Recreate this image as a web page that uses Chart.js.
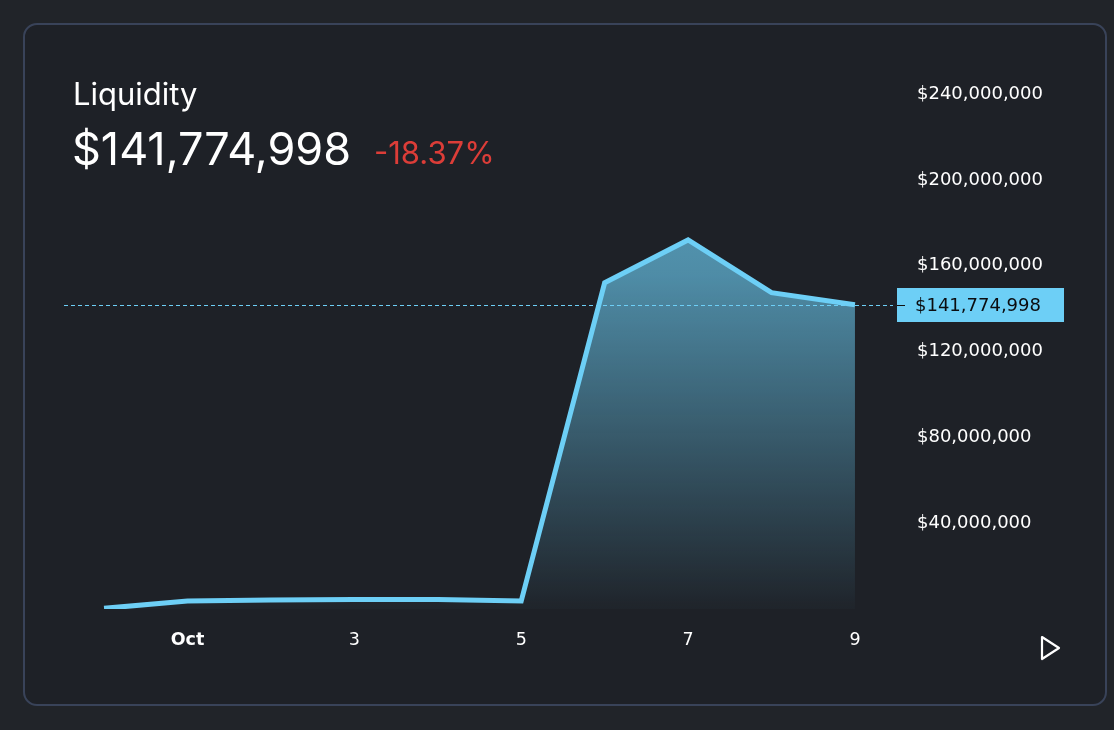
<!DOCTYPE html>
<html lang="en">
<head>
<meta charset="UTF-8">
<title>Liquidity</title>
<script src="https://cdn.jsdelivr.net/npm/chart.js"></script>
<style>
    html, body { margin: 0; padding: 0; background: #212429; }
    body { width: 1114px; height: 730px; position: relative; overflow: hidden; font-family: Inter, "Noto Sans", sans-serif; }
    .card { position: absolute; left: 23px; top: 23px; width: 1080px; height: 679px; border: 2px solid #394359; border-radius: 14px; background: #1e2127; }
    .chart-box { position: absolute; left: 0; top: 0; width: 1114px; height: 730px; }
    .txt { position: absolute; line-height: 1; white-space: nowrap; }
    .title { left: 73px; top: 78px; color: #fff; font-size: 31px; }
    .value { left: 72px; top: 126px; color: #fff; font-size: 45px; }
    .change { left: 374px; top: 137px; color: #dc3d38; font-size: 31px; }
    .play { position: absolute; left: 1038px; top: 634px; }
</style>
</head>
<body>
<div class="card"></div>
<div class="chart-box"><canvas id="chart" width="1114" height="730"></canvas></div>
<div class="txt title">Liquidity</div>
<div class="txt value">$141,774,998</div>
<div class="txt change">-18.37%</div>
<svg class="play" width="26" height="28" viewBox="0 0 26 28">
    <path d="M4 3 L21 14 L4 25 Z" fill="none" stroke="#fff" stroke-width="2.2" stroke-linejoin="round"/>
</svg>

<script>
    // data: Sep 30 .. Oct 9
    const days = ['Sep 30', 'Oct 1', 'Oct 2', 'Oct 3', 'Oct 4', 'Oct 5', 'Oct 6', 'Oct 7', 'Oct 8', 'Oct 9'];
    const liquidity = [300000, 3700000, 4200000, 4400000, 4400000, 3700000, 152000000, 172000000, 147400000, 141774998];
    const xTickIndex = [1, 3, 5, 7, 9];
    const xTickLabels = ['Oct', '3', '5', '7', '9'];
    const yTicks = [40000000, 80000000, 120000000, 160000000, 200000000, 240000000];

    const lineColor = '#6dcff6';

    function money(v) {
        return '$' + Math.round(v).toLocaleString('en-US');
    }

    // dashed line + price tag for the last value
    const lastValuePlugin = {
        id: 'lastValue',
        afterDatasetsDraw(chart) {
            const ctx = chart.ctx;
            const area = chart.chartArea;
            const v = liquidity[liquidity.length - 1];
            const y = Math.round(chart.scales.y.getPixelForValue(v));
            ctx.save();
            ctx.strokeStyle = lineColor;
            ctx.lineWidth = 1;
            ctx.setLineDash([4, 3]);
            ctx.beginPath();
            ctx.moveTo(area.left, y + 0.5);
            ctx.lineTo(area.right - 2, y + 0.5);
            ctx.stroke();
            ctx.setLineDash([]);
            ctx.fillStyle = lineColor;
            ctx.fillRect(area.right + 2, y - 17, 167, 34);
            ctx.strokeStyle = '#111';
            ctx.beginPath();
            ctx.moveTo(area.right + 2, y + 0.5);
            ctx.lineTo(area.right + 10, y + 0.5);
            ctx.stroke();
            ctx.fillStyle = '#0b0d10';
            ctx.font = '18px "DejaVu Sans"';
            ctx.textAlign = 'left';
            ctx.textBaseline = 'middle';
            ctx.fillText(money(v), area.right + 20, y + 1);
            ctx.restore();
        }
    };

    const ctx = document.getElementById('chart').getContext('2d');
    new Chart(ctx, {
        type: 'line',
        data: {
            datasets: [{
                label: 'Liquidity',
                data: liquidity.map((v, i) => ({ x: i, y: v })),
                borderColor: lineColor,
                borderWidth: 5,
                pointRadius: 0,
                tension: 0,
                fill: 'origin',
                backgroundColor(context) {
                    const area = context.chart.chartArea;
                    if (!area) return 'rgba(109,207,246,0.5)';
                    const g = context.chart.ctx.createLinearGradient(0, area.top, 0, area.bottom);
                    g.addColorStop(0, 'rgba(109,207,246,0.75)');
                    g.addColorStop(0.35, 'rgba(109,207,246,0.62)');
                    g.addColorStop(1, 'rgba(109,207,246,0.02)');
                    return g;
                }
            }]
        },
        options: {
            responsive: false,
            animation: false,
            layout: { padding: { left: 64, top: 94, right: 0, bottom: 0 } },
            plugins: { legend: { display: false }, tooltip: { enabled: false } },
            scales: {
                x: {
                    type: 'linear',
                    min: -0.48,
                    max: 9.48,
                    grid: { display: false, drawTicks: false },
                    border: { display: false },
                    afterBuildTicks(scale) {
                        scale.ticks = xTickIndex.map(v => ({ value: v }));
                    },
                    afterFit(scale) { scale.height = 121; },
                    ticks: {
                        padding: 21,
                        color: '#ffffff',
                        maxRotation: 0,
                        autoSkip: false,
                        font(c) {
                            return { family: 'DejaVu Sans', size: 17.5, weight: c.index === 0 ? 'bold' : 'normal' };
                        },
                        callback(value) {
                            const k = xTickIndex.indexOf(value);
                            return k >= 0 ? xTickLabels[k] : '';
                        }
                    }
                },
                y: {
                    position: 'right',
                    min: 0,
                    max: 240000000,
                    grid: { display: false, drawTicks: false },
                    border: { display: false },
                    afterBuildTicks(scale) {
                        scale.ticks = yTicks.map(v => ({ value: v }));
                    },
                    afterFit(scale) { scale.width = 219; },
                    ticks: {
                        padding: 22,
                        crossAlign: 'near',
                        color: '#ffffff',
                        font: { family: 'DejaVu Sans', size: 18 },
                        callback: v => money(v)
                    }
                }
            }
        },
        plugins: [lastValuePlugin]
    });
</script>
</body>
</html>
